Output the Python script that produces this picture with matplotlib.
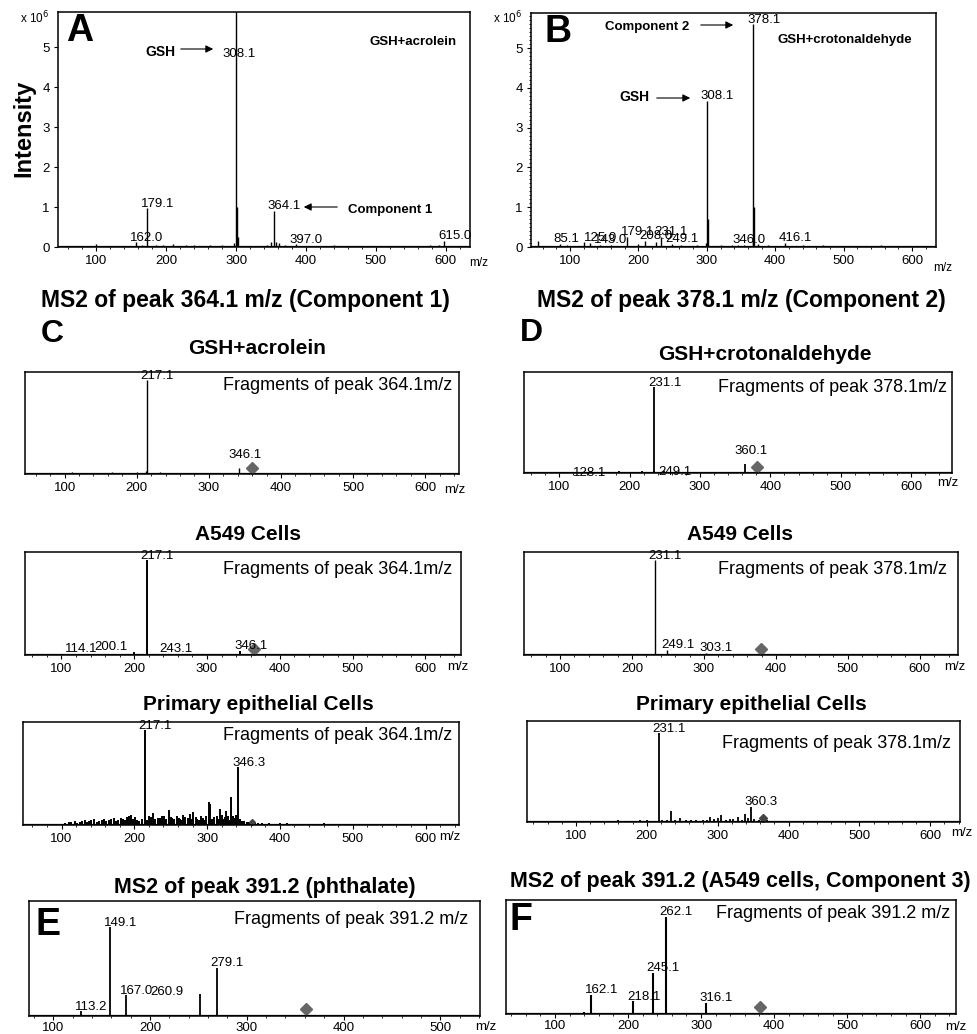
import matplotlib
matplotlib.use("Agg")
import matplotlib.pyplot as plt
from matplotlib.ticker import MultipleLocator

plt.rcParams['font.family'] = ['Liberation Sans', 'DejaVu Sans']

# ---- data (m/z positions as drawn on each axis, intensities) ----
# A: GSH + acrolein full scan (x 10^6)
a_mz = [100, 140, 157, 165, 173, 185, 196, 209, 228, 240, 262, 280, 297, 300, 301, 303,
        345, 350, 354, 357, 362, 370, 386, 405, 440, 478, 520, 545, 578, 590, 598, 620]
a_int = [0.08, 0.03, 0.12, 0.05, 0.97, 0.04, 0.05, 0.08, 0.06, 0.05, 0.06, 0.04, 0.10, 5.9, 1.0, 0.25,
         0.05, 0.12, 0.90, 0.12, 0.10, 0.06, 0.07, 0.03, 0.04, 0.03, 0.03, 0.03, 0.05, 0.04, 0.16, 0.03]
a_lab_mz = [157, 173, 300, 354, 386, 598]
a_labels = ["162.0", "179.1", "308.1", "364.1", "397.0", "615.0"]

# B: GSH + crotonaldehyde full scan (x 10^6)
b_mz = [53, 85, 95, 120, 129, 144, 160, 183, 200, 210, 225, 233, 249, 262, 285, 299, 300, 301,
        320, 337, 346, 355, 367, 368, 369, 375, 390, 414, 440, 470, 500, 555, 600]
b_int = [0.15, 0.08, 0.04, 0.12, 0.10, 0.06, 0.05, 0.25, 0.08, 0.15, 0.12, 0.25, 0.08, 0.05, 0.04, 0.10, 3.68, 0.70,
         0.05, 0.06, 0.05, 0.05, 0.20, 5.6, 1.0, 0.08, 0.05, 0.10, 0.05, 0.04, 0.03, 0.04, 0.03]
b_lab_mz = [85, 129, 144, 183, 210, 233, 249, 300, 346, 368, 414]
b_labels = ["85.1", "125.0", "143.0", "179.1", "208.0", "231.1", "249.1", "308.1", "346.0", "378.1", "416.1"]

# C: MS2 364.1, GSH + acrolein (relative %)
c_mz = [75, 110, 140, 165, 175, 200, 213, 214, 232, 245, 270, 300, 342]
c_int = [1, 2, 1, 2, 1, 2, 3, 92, 2, 1, 1, 1, 6]
c_lab_mz = [214, 342]
c_labels = ["217.1", "346.1"]
c_prec = 360

# D: MS2 378.1, GSH + crotonaldehyde
d_mz = [128, 150, 185, 218, 234, 235, 249, 270, 290, 310, 364]
d_int = [1, 1, 2, 2, 2, 85, 2, 1, 1, 1, 9]
d_lab_mz = [128, 235, 249, 364]
d_labels = ["128.1", "231.1", "249.1", "360.1"]
d_prec = 381

# A549 cells, MS2 364.1
c2_mz = [114, 150, 175, 200, 217, 243, 280, 300, 346]
c2_int = [1, 1, 1, 3, 92, 1, 1, 1, 4]
c2_lab_mz = [114, 200, 217, 243, 346]
c2_labels = ["114.1", "200.1", "217.1", "243.1", "346.1"]
c2_prec = 364

# A549 cells, MS2 378.1
d2_mz = [130, 160, 232, 249, 275, 303, 340]
d2_int = [1, 1, 92, 5, 1, 2, 1]
d2_lab_mz = [232, 249, 303]
d2_labels = ["231.1", "249.1", "303.1"]
d2_prec = 379

# Primary epithelial cells, MS2 364.1
c3_mz = [110, 118, 125, 132, 138, 145, 152, 158, 165, 172, 178, 185, 190, 196, 201, 207, 214, 220,
         226, 232, 238, 247, 252, 258, 263, 267, 273, 281, 286, 291, 296, 302, 304, 310, 317, 322,
         326, 330, 333, 338, 343, 348, 355, 362, 370, 385, 400, 420, 460, 520, 560,
         105, 113, 121, 128, 135, 141, 148, 155, 161, 168, 175, 181, 187, 193, 198, 204, 210, 217,
         223, 229, 235, 241, 244, 250, 255, 261, 265, 270, 276, 278, 284, 289, 294, 299, 307, 313,
         315, 320, 324, 328, 336, 340, 345, 351, 358, 366, 375, 392, 410, 440, 480]
c3_int = [3, 4, 3, 5, 4, 6, 4, 6, 5, 7, 5, 6, 8, 10, 8, 4, 92, 9,
          12, 7, 9, 15, 7, 9, 6, 10, 7, 13, 6, 9, 5, 22, 20, 8, 16, 6,
          14, 5, 27, 7, 56, 4, 3, 4, 2, 2, 2, 1, 2, 1, 1,
          2, 3, 2, 4, 3, 5, 3, 5, 4, 6, 4, 7, 5, 9, 6, 5, 6, 5,
          8, 6, 7, 9, 6, 8, 6, 7, 5, 8, 11, 6, 8, 5, 7, 9, 6, 9,
          6, 10, 8, 9, 9, 10, 6, 4, 3, 2, 2, 1, 2, 1, 1]
c3_lab_mz = [214, 343]
c3_labels = ["217.1", "346.3"]
c3_prec = 362

# Primary epithelial cells, MS2 378.1
d3_mz = [120, 140, 160, 180, 200, 217, 222, 234, 240, 247, 255, 270, 280, 289, 295, 305, 312, 322,
         329, 339, 347, 352, 358, 370, 380, 400, 420, 110, 150, 170, 190, 210, 228, 262, 285, 300, 317, 334, 343]
d3_int = [1, 1, 2, 1, 2, 88, 2, 11, 2, 4, 2, 2, 2, 5, 3, 7, 2, 3,
          5, 8, 15, 3, 2, 2, 1, 1, 1, 1, 1, 1, 2, 1, 2, 2, 2, 4, 3, 2, 4]
d3_lab_mz = [217, 347]
d3_labels = ["231.1", "360.3"]
d3_prec = 364

# E: MS2 391.2 phthalate
e_mz = [129, 159, 175, 252, 269]
e_int = [4, 77, 18, 19, 42]
e_lab_mz = [129, 159, 175, 252, 269]
e_labels = ["113.2", "149.1", "167.0", "260.9", "279.1"]
e_prec = 361

# F: MS2 391.2 A549 cells, component 3
f_mz = [115, 140, 149, 170, 207, 234, 252, 280, 307, 330, 360]
f_int = [1, 2, 17, 1, 11, 36, 85, 1, 10, 1, 1]
f_lab_mz = [149, 207, 234, 252, 307]
f_labels = ["162.1", "218.1", "245.1", "262.1", "316.1"]
f_prec = 381

W, H = 978, 1034
fig = plt.figure(figsize=(W / 100, H / 100), dpi=100)


def box(l, t, r, b):
    return [l / W, 1 - b / H, (r - l) / W, (b - t) / H]


def ptext(x, y, s, **kw):
    kw.setdefault('ha', 'center')
    kw.setdefault('va', 'center')
    fig.text(x / W, 1 - y / H, s, **kw)


def arrow(x1, x2, y):
    fig.add_artist(matplotlib.patches.FancyArrowPatch(
        (x1 / W, 1 - y / H), (x2 / W, 1 - y / H), transform=fig.transFigure,
        arrowstyle='-|>', mutation_scale=11, lw=0.8, color='black'))


def spectrum(rect, xlim, ylim, mz, inten, lab_mz, labels, prec=None, xticks=range(100, 700, 100),
             lw=1.0, nudge=None, cap=None, yaxis=False, pad=3):
    ax = fig.add_axes(box(*rect))
    ax.vlines(mz, 0, inten, color='black', lw=lw)
    ax.axhline(0, color='black', lw=1.6)
    ax.set_xlim(*xlim)
    ax.set_ylim(*ylim)
    ax.set_xticks(list(xticks))
    ax.xaxis.set_minor_locator(MultipleLocator(20))
    ax.tick_params(axis='x', which='major', length=3, width=0.8, labelsize=9.5, pad=pad)
    ax.tick_params(axis='x', which='minor', length=1.5, width=0.6)
    if yaxis:
        ax.set_yticks(range(0, 6))
        ax.tick_params(axis='y', which='major', length=3, width=0.8, labelsize=9.5, pad=3)
    else:
        ax.set_yticks([])
    for sp in ax.spines.values():
        sp.set_linewidth(1.1)
    nudge = nudge or {}
    for m, s in zip(lab_mz, labels):
        h = inten[mz.index(m)]
        if cap is not None:
            h = min(h, cap)
        dx, dy = nudge.get(s, (0, 0))
        ax.annotate(s, (m, h), xytext=(-4.5 + dx, -1 + dy), textcoords='offset points',
                    ha='left', va='bottom', fontsize=9.5)
    if prec is not None:
        ax.plot(prec, ylim[1] * 0.06, marker='D', color='#666666', ms=6.5, clip_on=False)
    return ax


# ---- A ----
spectrum((58, 12, 470, 247), (45, 635), (0, 5.88), a_mz, a_int, a_lab_mz, a_labels, cap=4.72, yaxis=True,
         nudge={"308.1": (-5, 0)})
ptext(80, 31, "A", fontsize=27, fontweight='bold')
ptext(35, 18, r"x 10$^6$", fontsize=8.5)
ptext(24, 128, "Intensity", fontsize=17, fontweight='bold', rotation=90)
ptext(160, 52, "GSH", fontsize=10, fontweight='bold')
arrow(178, 216, 49)
ptext(413, 42, "GSH+acrolein", fontsize=9.5, fontweight='bold')
ptext(390, 210, "Component 1", fontsize=9.5, fontweight='bold')
arrow(340, 301, 207)
ptext(479, 263, "m/z", fontsize=8.5)

# ---- B ----
axB = spectrum((531, 13, 936, 247), (43, 635), (0, 5.88), b_mz, b_int, b_lab_mz, b_labels, yaxis=True)
axB.yaxis.set_minor_locator(MultipleLocator(0.1))
axB.tick_params(axis='y', which='minor', length=1.5, width=0.6)
ptext(558, 32, "B", fontsize=27, fontweight='bold')
ptext(508, 18, r"x 10$^6$", fontsize=8.5)
ptext(647, 27, "Component 2", fontsize=9.5, fontweight='bold')
arrow(698, 736, 25)
ptext(634, 97, "GSH", fontsize=10, fontweight='bold')
arrow(654, 693, 98)
ptext(845, 40, "GSH+crotonaldehyde", fontsize=9.5, fontweight='bold')
ptext(943, 268, "m/z", fontsize=8.5)

# ---- section titles ----
ptext(245, 300, "MS2 of peak 364.1 m/z (Component 1)", fontsize=16.5, fontweight='bold')
ptext(741, 300, "MS2 of peak 378.1 m/z (Component 2)", fontsize=16.5, fontweight='bold')

# ---- C column ----
spectrum((25, 372, 459, 474), (45, 647), (0, 100), c_mz, c_int, c_lab_mz, c_labels, c_prec,
         nudge={"346.1": (-3, 6)})
ptext(52, 334, "C", fontsize=23, fontweight='bold')
ptext(257, 349, "GSH+acrolein", fontsize=15, fontweight='bold')
ptext(452, 385, "Fragments of peak 364.1m/z", fontsize=13, ha='right')
ptext(455, 490, "m/z", fontsize=9.5)

spectrum((25, 552, 461, 655), (50, 649), (0, 100), c2_mz, c2_int, c2_lab_mz, c2_labels, c2_prec, lw=1.4,
         nudge={"200.1": (-24, 0)})
ptext(248, 535, "A549 Cells", fontsize=15, fontweight='bold')
ptext(452, 570, "Fragments of peak 364.1m/z", fontsize=13, ha='right')
ptext(458, 667, "m/z", fontsize=9.5)

axc3 = spectrum((23, 722, 459, 825), (47, 646), (0, 100), c3_mz, c3_int, c3_lab_mz, c3_labels, None, lw=1.4)
axc3.plot(c3_prec, 3, marker='D', color='#444444', ms=3)
ptext(258, 705, "Primary epithelial Cells", fontsize=15, fontweight='bold')
ptext(452, 735, "Fragments of peak 364.1m/z", fontsize=13, ha='right')
ptext(450, 837, "m/z", fontsize=9.5)

# ---- D column ----
spectrum((524, 372, 952, 473), (50, 658), (0, 100), d_mz, d_int, d_lab_mz, d_labels, d_prec, lw=1.3,
         nudge={"360.1": (-3, 6), "128.1": (0, -4), "249.1": (0, -4)})
ptext(531, 333, "D", fontsize=23, fontweight='bold')
ptext(765, 354, "GSH+crotonaldehyde", fontsize=15, fontweight='bold')
ptext(947, 387, "Fragments of peak 378.1m/z", fontsize=13, ha='right')
ptext(948, 483, "m/z", fontsize=9.5)

spectrum((524, 552, 958, 655), (50, 653), (0, 100), d2_mz, d2_int, d2_lab_mz, d2_labels, d2_prec)
ptext(740, 535, "A549 Cells", fontsize=15, fontweight='bold')
ptext(947, 570, "Fragments of peak 378.1m/z", fontsize=13, ha='right')
ptext(955, 667, "m/z", fontsize=9.5)

axd3 = spectrum((527, 721, 960, 822), (31, 642), (0, 100), d3_mz, d3_int, d3_lab_mz, d3_labels, None, lw=1.3)
axd3.plot(d3_prec, 4, marker='D', color='#444444', ms=4)
ptext(751, 705, "Primary epithelial Cells", fontsize=15, fontweight='bold')
ptext(951, 743, "Fragments of peak 378.1m/z", fontsize=13, ha='right')
ptext(962, 833, "m/z", fontsize=9.5)

# ---- E / F ----
spectrum((29, 901, 480, 1016), (75, 541), (0, 100), e_mz, e_int, e_lab_mz, e_labels, e_prec,
         xticks=range(100, 600, 100), lw=1.3, nudge={"260.9": (-31.5, -2)}, pad=1)
ptext(265, 887, "MS2 of peak 391.2 (phthalate)", fontsize=15.5, fontweight='bold')
ptext(48, 925, "E", fontsize=27, fontweight='bold')
ptext(468, 920, "Fragments of peak 391.2 m/z", fontsize=13, ha='right')
ptext(486, 1027, "m/z", fontsize=9.5)

spectrum((506, 900, 956, 1014), (33, 649), (0, 100), f_mz, f_int, f_lab_mz, f_labels, f_prec, lw=1.5, pad=1)
ptext(740, 882, "MS2 of peak 391.2 (A549 cells, Component 3)", fontsize=15.5, fontweight='bold')
ptext(521, 920, "F", fontsize=27, fontweight='bold')
ptext(950, 913, "Fragments of peak 391.2 m/z", fontsize=13, ha='right')
ptext(956, 1027, "m/z", fontsize=9.5)

fig.savefig("out.png", dpi=100)
